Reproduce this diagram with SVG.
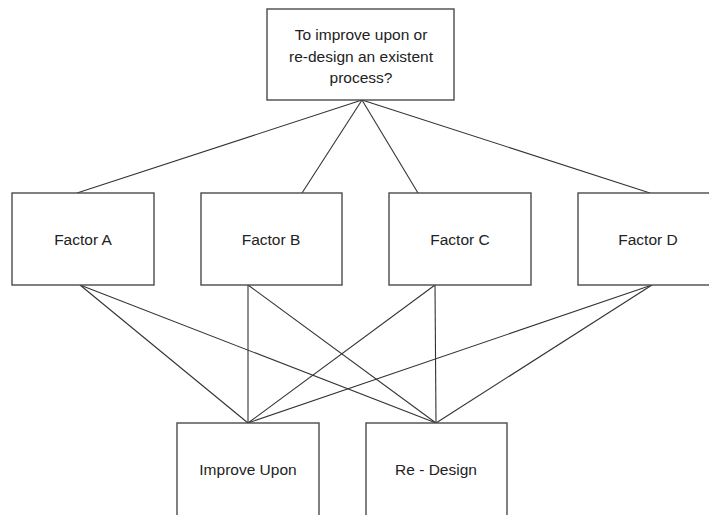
<svg xmlns="http://www.w3.org/2000/svg" width="709" height="515" viewBox="0 0 709 515">
  <style>
    .box { fill: #ffffff; stroke: #4a4a4a; stroke-width: 1.4; }
    .label { font-family: "Liberation Sans", Arial, sans-serif; font-size: 15.5px; fill: #222222; text-anchor: middle; }
    .link { stroke: #333333; stroke-width: 1.1; fill: none; }
  </style>
  <rect width="709" height="515" fill="#ffffff"/>

  <!-- connectors -->
  <g id="connectors">
    <line class="link" x1="362" y1="100" x2="77" y2="193"/>
    <line class="link" x1="362" y1="100" x2="302" y2="193"/>
    <line class="link" x1="362" y1="100" x2="418" y2="193"/>
    <line class="link" x1="362" y1="100" x2="650" y2="193"/>

    <line class="link" x1="80" y1="285" x2="248" y2="423"/>
    <line class="link" x1="80" y1="285" x2="436" y2="423"/>
    <line class="link" x1="248" y1="285" x2="248" y2="423"/>
    <line class="link" x1="248" y1="285" x2="436" y2="423"/>
    <line class="link" x1="435" y1="285" x2="248" y2="423"/>
    <line class="link" x1="435" y1="285" x2="436" y2="423"/>
    <line class="link" x1="652" y1="285" x2="248" y2="423"/>
    <line class="link" x1="652" y1="285" x2="436" y2="423"/>
  </g>

  <g id="goal">
    <rect class="box" x="267" y="9" width="187" height="91"/>
    <text class="label" x="361" y="40">To improve upon or</text>
    <text class="label" x="361" y="62">re-design an existent</text>
    <text class="label" x="361" y="83">process?</text>
  </g>

  <g id="factor-a">
    <rect class="box" x="12" y="193" width="142" height="92"/>
    <text class="label" x="83" y="244.5">Factor A</text>
  </g>
  <g id="factor-b">
    <rect class="box" x="201" y="193" width="141" height="92"/>
    <text class="label" x="271" y="244.5">Factor B</text>
  </g>
  <g id="factor-c">
    <rect class="box" x="389" y="193" width="142" height="92"/>
    <text class="label" x="460" y="244.5">Factor C</text>
  </g>
  <g id="factor-d">
    <rect class="box" x="578" y="193" width="142" height="92"/>
    <text class="label" x="648" y="244.5">Factor D</text>
  </g>

  <g id="improve-upon">
    <rect class="box" x="177" y="423" width="142" height="100"/>
    <text class="label" x="248" y="474.5">Improve Upon</text>
  </g>
  <g id="re-design">
    <rect class="box" x="366" y="423" width="141" height="100"/>
    <text class="label" x="436" y="474.5">Re - Design</text>
  </g>
</svg>
